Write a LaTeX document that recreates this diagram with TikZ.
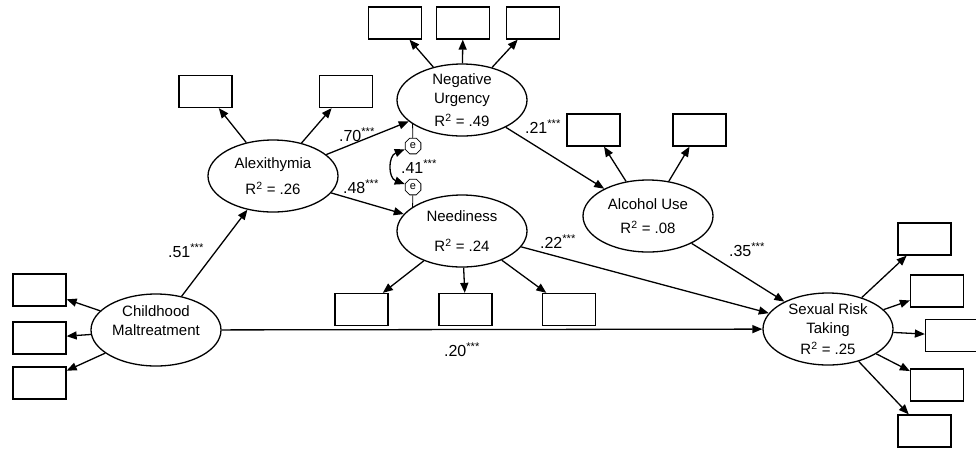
\documentclass[tikz,border=0pt]{standalone}
\usepackage{fontspec}
\setmainfont{Liberation Sans}
\usetikzlibrary{arrows.meta, positioning, shapes.geometric}

\begin{document}
\begin{tikzpicture}[x=1pt, y=-1pt, line width=1.3pt,
		>={Triangle[length=10pt, width=8pt]},
		latent/.style={draw, ellipse, minimum width=130pt, minimum height=72pt, inner sep=-4pt, align=center, font=\fontsize{15}{19}\selectfont},
		item/.style={draw, rectangle, minimum width=53pt, minimum height=32pt, inner sep=0pt},
		err/.style={draw, regular polygon, regular polygon sides=8, minimum size=17pt, inner sep=0pt, line width=0.8pt, font=\fontsize{11}{11}\selectfont},
		coef/.style={inner sep=0pt, font=\fontsize{16}{18}\selectfont}]
		\useasboundingbox (0,0) rectangle (976,451);
		
		% Latent variables
		\node[latent] (nu) at (462,100) {Negative\\Urgency\\[4pt]R\textsuperscript{2} = .49};
		\node[latent] (alex) at (273,176) {Alexithymia\\[7pt]R\textsuperscript{2} = .26};
		\node[latent] (need) at (462,231) {Neediness\\[11pt]R\textsuperscript{2} = .24};
		\node[latent] (alc) at (648,216) {Alcohol Use\\[5pt]R\textsuperscript{2} = .08};
		\node[latent] (cm) at (156,330) {Childhood\\Maltreatment\\\phantom{M}};
		\node[latent] (srt) at (828,329) {Sexual Risk\\Taking\\[2pt]R\textsuperscript{2} = .25};
		
		% Indicators
		\node[item] (nu1) at (395,23) {};
		\node[item] (nu2) at (463,23) {};
		\node[item] (nu3) at (533,23) {};
		\node[item] (alex1) at (205.5,91.5) {};
		\node[item] (alex2) at (346,91.5) {};
		\node[item] (alc1) at (593.5,130) {};
		\node[item] (alc2) at (699.5,130) {};
		\node[item] (need1) at (361.5,309.5) {};
		\node[item] (need2) at (465.5,309.5) {};
		\node[item] (need3) at (569,309.5) {};
		\node[item] (cm1) at (39.5,290) {};
		\node[item] (cm2) at (39.5,338) {};
		\node[item] (cm3) at (39.5,383) {};
		\node[item] (srt1) at (924.5,239) {};
		\node[item] (srt2) at (937,291) {};
		\node[item] (srt3) at (952,335.5) {};
		\node[item] (srt4) at (937,385) {};
		\node[item] (srt5) at (924.5,431) {};
		
		% Loadings
		\draw[->] (nu) -- (nu1);
		\draw[->] (nu) -- (nu2);
		\draw[->] (nu) -- (nu3);
		\draw[->] (alex) -- (alex1);
		\draw[->] (alex) -- (alex2);
		\draw[->] (alc) -- (alc1);
		\draw[->] (alc) -- (alc2);
		\draw[->] (need) -- (need1);
		\draw[->] (need) -- (need2);
		\draw[->] (need) -- (need3);
		\draw[->] (cm) -- (cm1);
		\draw[->] (cm) -- (cm2);
		\draw[->] (cm) -- (cm3);
		\draw[->] (srt) -- (srt1);
		\draw[->] (srt) -- (srt2);
		\draw[->] (srt) -- (srt3);
		\draw[->] (srt) -- (srt4);
		\draw[->] (srt) -- (srt5);
		
		% Structural paths
		\draw[->] (cm) -- (alex);
		\draw[->] (alex) -- (nu);
		\draw[->] (alex) -- (need);
		\draw[->] (nu) -- (alc);
		\draw[->] (need) -- (srt);
		\draw[->] (alc) -- (srt);
		\draw[->] (cm) -- (srt);
		
		% Residual covariance
		\node[err] (e1) at (413,146) {e};
		\node[err] (e2) at (413,187) {e};
		\draw[line width=0.8pt] (e1) -- (nu.206);
		\draw[line width=0.8pt] (e2) -- (need.154);
		\draw[<->] (e1) .. controls (388,156) and (388,178) .. (e2);
		
		% Coefficients
		\node[coef] (c51) at (186,251) {.51\textsuperscript{***}};
		\node[coef] (c70) at (357,135) {.70\textsuperscript{***}};
		\node[coef] (c48) at (361,187) {.48\textsuperscript{***}};
		\node[coef] (c41) at (419,167) {.41\textsuperscript{***}};
		\node[coef] (c21) at (543,127) {.21\textsuperscript{***}};
		\node[coef] (c22) at (558,242) {.22\textsuperscript{***}};
		\node[coef] (c35) at (747,250) {.35\textsuperscript{***}};
		\node[coef] (c20) at (462,350) {.20\textsuperscript{***}};
	\end{tikzpicture}
\end{document}
